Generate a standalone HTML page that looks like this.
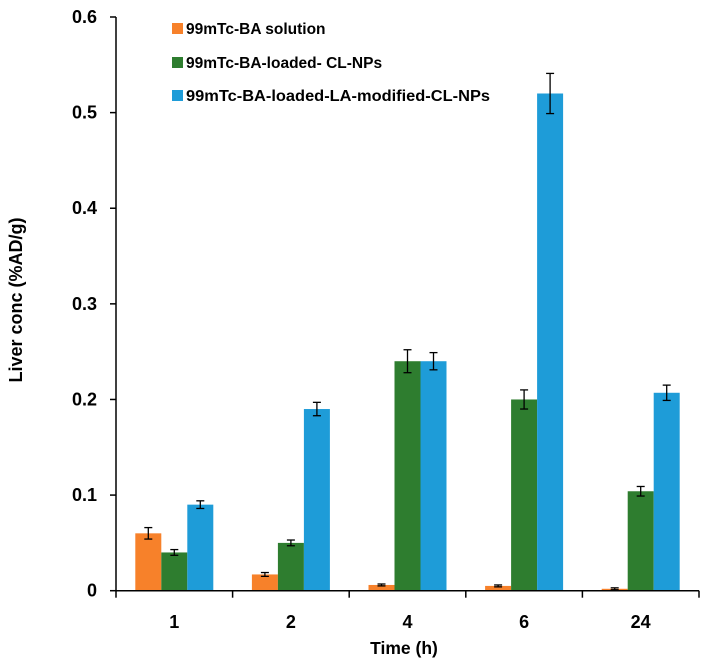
<!DOCTYPE html>
<html><head><meta charset="utf-8"><style>
body{margin:0;background:#fff;}
svg text{font-family:"Liberation Sans",Arial,sans-serif;font-weight:bold;fill:#000;}
</style></head><body>
<svg id="chart" width="711" height="666">
<g id="bars"></g>
<g id="axes"></g>
<text x="22" y="300" font-size="18" text-anchor="middle" transform="rotate(-90 22 300)">Liver conc (%AD/g)</text>
<text x="404" y="654" font-size="17.5" text-anchor="middle">Time (h)</text>
<g>
<rect x="172" y="23" width="11" height="11" fill="#F7812A"/>
<text x="186" y="34" font-size="15.5">99mTc-BA solution</text>
<rect x="172" y="57" width="11" height="11" fill="#2E7D2F"/>
<text x="186" y="68" font-size="15.5">99mTc-BA-loaded- CL-NPs</text>
<rect x="172" y="90" width="11" height="11" fill="#1E9CD8"/>
<text x="186" y="101" font-size="15.5" textLength="304" lengthAdjust="spacingAndGlyphs">99mTc-BA-loaded-LA-modified-CL-NPs</text>
</g>
</svg>
<script>
const categories=["1","2","4","6","24"];
const solution=[0.06,0.017,0.006,0.005,0.002];
const solutionErr=[0.006,0.002,0.001,0.001,0.001];
const clnps=[0.04,0.05,0.24,0.2,0.104];
const clnpsErr=[0.003,0.003,0.012,0.01,0.005];
const laclnps=[0.09,0.19,0.24,0.52,0.207];
const laclnpsErr=[0.004,0.007,0.009,0.021,0.008];
const yTicks=[0,0.1,0.2,0.3,0.4,0.5,0.6];
const yTickLabels=["0","0.1","0.2","0.3","0.4","0.5","0.6"];

const NS="http://www.w3.org/2000/svg";
const x0=116,catW=116.6,y0=590.7,yTop=17;
const yS=v=>y0-(v/0.6)*(y0-yTop);
const xC=i=>x0+catW*(i+0.5);
function mk(tag,attrs,parent){const e=document.createElementNS(NS,tag);for(const k in attrs)e.setAttribute(k,attrs[k]);parent.appendChild(e);return e;}
const bars=document.getElementById('bars'),axes=document.getElementById('axes');
const series=[[solution,solutionErr,"#F7812A","solution"],[clnps,clnpsErr,"#2E7D2F","cl-nps"],[laclnps,laclnpsErr,"#1E9CD8","la-cl-nps"]];
const bw=26;
series.forEach((s,si)=>{
  s[0].forEach((v,i)=>{
    const x=xC(i)-1.5*bw+si*bw;
    const r=mk('rect',{x:x,y:yS(v),width:bw,height:y0-yS(v),fill:s[2]},bars);
    
    
    const cx=x+bw/2,hi=yS(v+s[1][i]),lo=yS(Math.max(0,v-s[1][i]));
    const g=mk('g',{stroke:'#000','stroke-width':1.3},bars);
    
    
    mk('line',{x1:cx,x2:cx,y1:hi,y2:lo},g);
    mk('line',{x1:cx-4,x2:cx+4,y1:hi,y2:hi},g);
    mk('line',{x1:cx-4,x2:cx+4,y1:lo,y2:lo},g);
  });
});
let l=mk('line',{x1:x0,x2:x0,y1:yTop,y2:y0,stroke:'#000','stroke-width':1.5},axes);

l=mk('line',{x1:x0,x2:x0+catW*5,y1:y0,y2:y0,stroke:'#000','stroke-width':1.5},axes);

yTicks.forEach((t,i)=>{
  mk('line',{x1:x0-6,x2:x0,y1:yS(t),y2:yS(t),stroke:'#000','stroke-width':1.5},axes);
  const tx=mk('text',{x:97,y:yS(t)+6,'font-size':18,'text-anchor':'end'},axes);
  tx.textContent=yTickLabels[i];
  
  
});
for(let i=0;i<=5;i++)mk('line',{x1:x0+catW*i,x2:x0+catW*i,y1:y0,y2:y0+7,stroke:'#000','stroke-width':1.5},axes);
categories.forEach((c,i)=>{
  const tx=mk('text',{x:xC(i),y:628,'font-size':18,'text-anchor':'middle'},axes);
  tx.textContent=c;
  
  
});
</script>
</body></html>
